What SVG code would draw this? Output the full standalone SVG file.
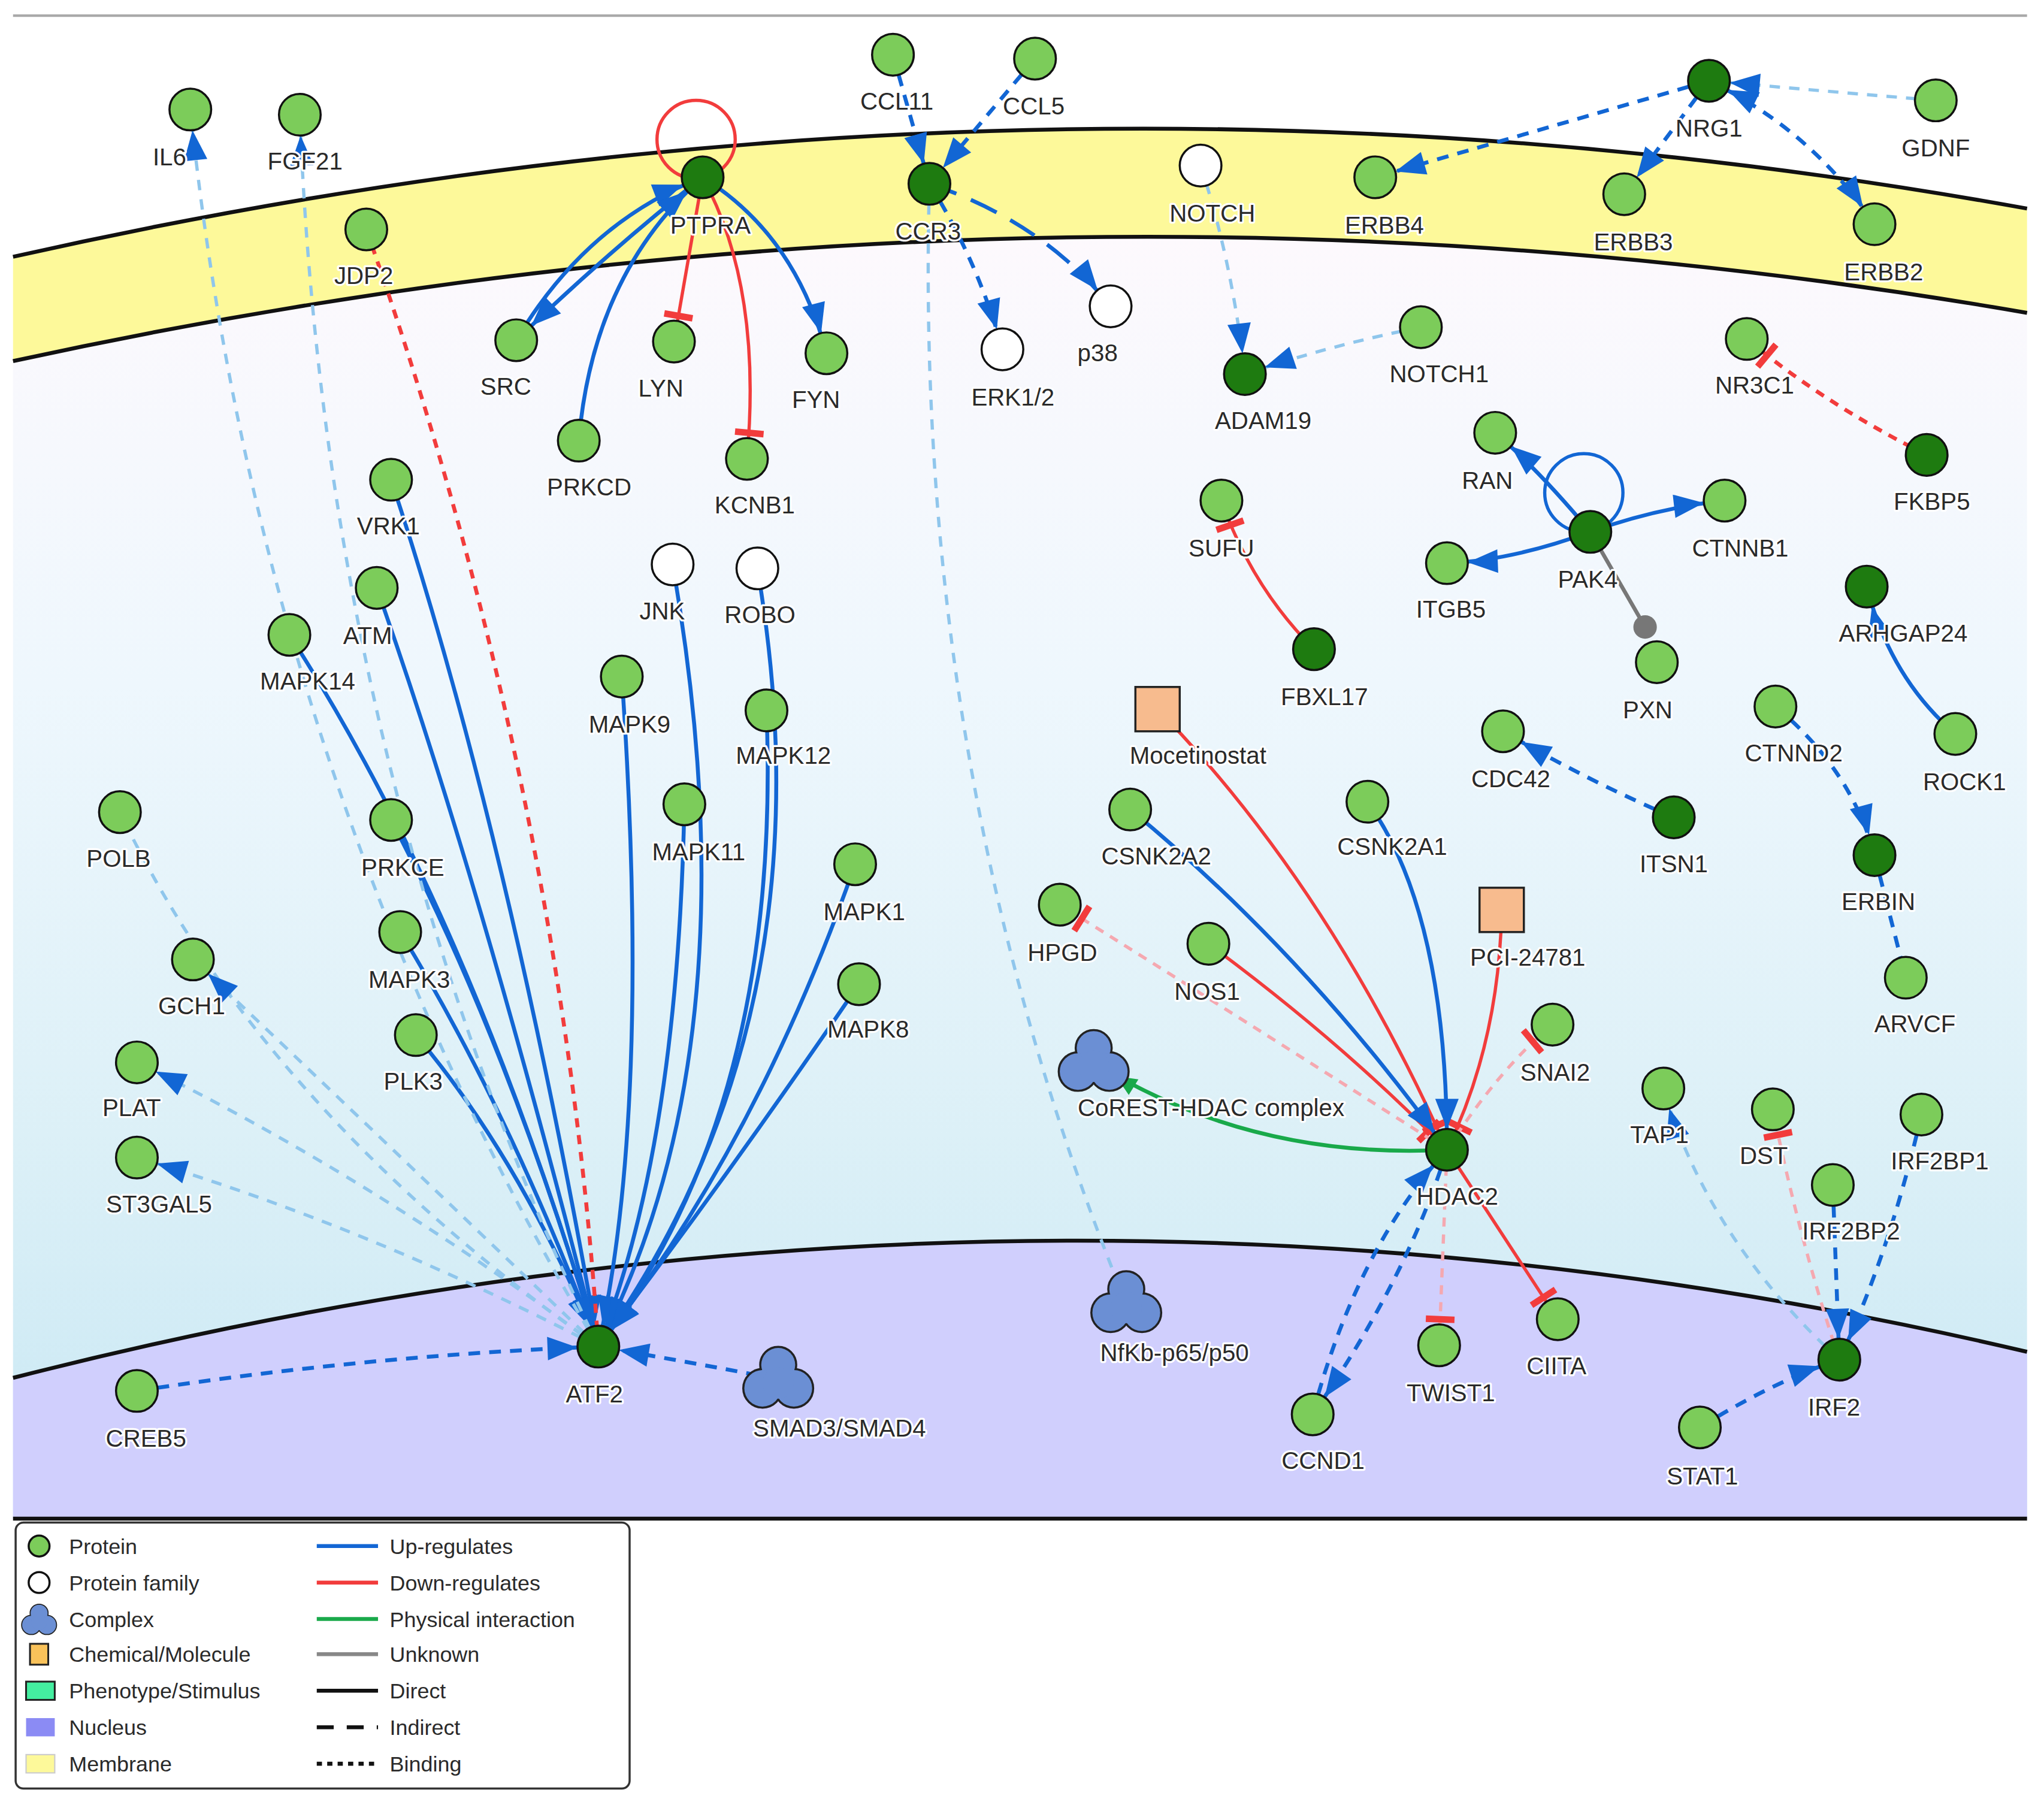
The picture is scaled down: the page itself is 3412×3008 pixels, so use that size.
<svg xmlns="http://www.w3.org/2000/svg" width="3412" height="3008" viewBox="0 0 3412 3008">
<style>
.p{fill:#7ccc5a;stroke:#111;stroke-width:1.6}
.d{fill:#1e7b10;stroke:#111;stroke-width:1.6}
.f{fill:#fff;stroke:#111;stroke-width:1.6}
.sq{fill:#f7bb8e;stroke:#222;stroke-width:1.6}
text{font-family:"Liberation Sans",Arial,sans-serif;font-size:18.5px;fill:#2a2a2a;text-anchor:middle;paint-order:stroke;stroke:#fff;stroke-width:3px;stroke-linejoin:round}
.lg text{text-anchor:start;stroke:none;font-size:16.5px}
.e{fill:none;stroke-width:3}
.b{stroke:#1266d4}
.bd{stroke:#1266d4;stroke-dasharray:9 7}
.lb{stroke:#8fc6ec;stroke-dasharray:8 7;stroke-width:2.5}
.r{stroke:#f23c3c;stroke-width:2.5}
.rd{stroke:#f23c3c;stroke-dasharray:7 6}
.pk{stroke:#f5a8b0;stroke-dasharray:7 6;stroke-width:2.5}
.g{stroke:#19a94a}
.ab{marker-end:url(#ab)}
.tr{marker-end:url(#tr)}
</style>
<defs>
<linearGradient id="cyto" x1="0" y1="0" x2="0" y2="1">
<stop offset="0" stop-color="#fdf9fd"/><stop offset="0.35" stop-color="#eef7fd"/><stop offset="0.7" stop-color="#dcf0f7"/><stop offset="1" stop-color="#c9e8f4"/>
</linearGradient>
<marker id="ab" markerUnits="userSpaceOnUse" markerWidth="60" markerHeight="60" refX="39" refY="9" orient="auto-start-reverse" overflow="visible"><path d="M0,0 L23,9 L0,18 z" fill="#1266d4"/></marker>
<marker id="ag" markerUnits="userSpaceOnUse" markerWidth="60" markerHeight="60" refX="36" refY="7" orient="auto" overflow="visible"><path d="M0,0 L16,7 L0,14 z" fill="#19a94a"/></marker>
<marker id="tr" markerUnits="userSpaceOnUse" markerWidth="60" markerHeight="60" refX="20" refY="0" orient="auto" overflow="visible"><path d="M0,-11 L0,11" stroke="#f23c3c" stroke-width="5"/></marker>
<g id="cplx"><g stroke="#222" stroke-width="3.2" fill="#6b8fd4"><circle cx="0" cy="-11" r="13"/><circle cx="-12" cy="7" r="14"/><circle cx="12" cy="7" r="14"/></g><g fill="#6b8fd4"><circle cx="0" cy="-11" r="13"/><circle cx="-12" cy="7" r="14"/><circle cx="12" cy="7" r="14"/><circle cx="0" cy="3" r="12"/></g></g>
</defs>
<rect width="3412" height="3008" fill="#fff"/>
<g transform="scale(2.176)">
<g id="background">
<line x1="10" y1="12" x2="1555" y2="12" stroke="#aaa" stroke-width="2"/>
<path d="M10,277 Q790,107 1555,240 L1555,1165 L10,1165 Z" fill="url(#cyto)"/>
<path d="M10,197 Q790,21 1555,160 L1555,240 Q790,107 10,277 Z" fill="#fdf99a"/>
<path d="M10,197 Q790,21 1555,160 M1555,240 Q790,107 10,277" fill="none" stroke="#111" stroke-width="3"/>
<path d="M10,1057 Q790,857 1555,1037 L1555,1165 L10,1165 Z" fill="#d0cffd"/>
<path d="M10,1057 Q790,857 1555,1037 M10,1165 L1555,1165" fill="none" stroke="#111" stroke-width="3"/>
</g>
<g id="connectors">
<path class="e b ab" d="M300,368 Q390,640 459,1033"/>
<path class="e b ab" d="M289,451 Q370,680 459,1033"/>
<path class="e b ab" d="M222,487 Q360,700 459,1033"/>
<path class="e b ab" d="M300,629 Q390,800 459,1033"/>
<path class="e b ab" d="M307,715 Q390,850 459,1033"/>
<path class="e b ab" d="M319,794 Q400,890 459,1033"/>
<path class="e b ab" d="M477,519 Q500,850 459,1033"/>
<path class="e b ab" d="M525,617 Q520,880 459,1033"/>
<path class="e b ab" d="M588,545 Q600,850 459,1033"/>
<path class="e b ab" d="M516,433 Q580,800 459,1033"/>
<path class="e b ab" d="M581,436 Q640,780 459,1033"/>
<path class="e b ab" d="M656,663 Q580,880 459,1033"/>
<path class="e b ab" d="M659,755 Q560,900 459,1033"/>
<path class="e rd" d="M281,176 Q430,600 459,1033"/>
<path class="e lb ab" d="M459,1033 Q200,600 146,84"/>
<path class="e lb ab" d="M459,1033 Q250,600 230,88"/>
<path class="e lb" d="M459,1033 Q200,850 92,623"/>
<path class="e lb ab" d="M459,1033 Q300,880 148,736"/>
<path class="e lb ab" d="M459,1033 Q280,900 105,815"/>
<path class="e lb ab" d="M459,1033 Q280,940 105,888"/>
<path class="e bd ab" d="M105,1067 Q280,1040 459,1033"/>
<path class="e bd ab" d="M597,1058 Q530,1045 459,1033"/>
<path class="e b ab" d="M396,261 Q450,170 539,136"/>
<path class="e b ab" d="M539,136 Q470,190 396,261"/>
<path class="e b ab" d="M444,338 Q455,210 539,136"/>
<path class="e b ab" d="M539,136 Q610,180 634,271"/>
<path class="e r tr" d="M539,136 L517,262"/>
<path class="e r tr" d="M539,136 Q585,220 573,352"/>
<circle cx="534" cy="107" r="30" fill="none" stroke="#f23c3c" stroke-width="2.5"/>
<path class="e bd ab" d="M685,42 L713,141"/>
<path class="e bd ab" d="M794,45 L713,141"/>
<path class="e bd ab" d="M713,141 Q750,200 769,268"/>
<path class="e b ab" stroke-dasharray="22 12" d="M713,141 Q800,170 852,235"/>
<path class="e lb" d="M864,1000 Q700,600 713,141"/>
<path class="e lb ab" d="M921,127 Q945,200 955,287"/>
<path class="e lb ab" d="M1090,251 Q1020,265 955,287"/>
<path class="e bd ab" d="M1311,62 Q1180,100 1055,136"/>
<path class="e bd ab" d="M1311,62 L1246,149"/>
<path class="e bd ab" style="marker-start:url(#ab)" d="M1311,62 Q1390,100 1438,172"/>
<path class="e lb ab" d="M1485,77 Q1400,70 1311,62"/>
<path class="e rd tr" d="M1478,349 Q1400,310 1340,260"/>
<circle cx="1215" cy="378" r="30" fill="none" stroke="#1266d4" stroke-width="2.5"/>
<path class="e b ab" d="M1220,408 Q1180,360 1147,332"/>
<path class="e b ab" d="M1220,408 Q1270,390 1323,384"/>
<path class="e b ab" d="M1220,408 Q1160,430 1110,432"/>
<path class="e" stroke="#777" stroke-width="3" d="M1220,408 L1262,481"/>
<circle cx="1262" cy="481" r="9" fill="#777"/>
<path class="e r tr" d="M1008,498 Q960,450 937,384"/>
<path class="e b ab" d="M1500,563 Q1450,520 1432,450"/>
<path class="e bd ab" d="M1284,627 Q1220,600 1153,561"/>
<path class="e bd ab" d="M1362,542 Q1420,590 1438,656"/>
<path class="e bd" d="M1438,656 L1462,750"/>
<path class="e r tr" d="M888,544 Q1020,680 1110,882"/>
<path class="e r tr" d="M1152,698 Q1150,800 1110,882"/>
<path class="e r tr" d="M927,724 Q1030,800 1110,882"/>
<path class="e b ab" d="M867,621 Q1000,730 1110,882"/>
<path class="e b ab" d="M1049,615 Q1110,700 1110,882"/>
<path class="e pk tr" d="M1110,882 Q950,780 813,694"/>
<path class="e pk tr" d="M1110,882 Q1150,820 1191,786"/>
<path class="e g" style="marker-end:url(#ag)" d="M1110,882 Q960,890 839,815"/>
<path class="e pk tr" d="M1110,882 L1104,1032"/>
<path class="e r tr" d="M1110,882 L1195,1012"/>
<path class="e bd ab" d="M1007,1085 Q1040,960 1110,882"/>
<path class="e bd ab" d="M1110,882 Q1080,980 1007,1085"/>
<path class="e lb ab" d="M1411,1043 Q1310,950 1276,835"/>
<path class="e pk tr" d="M1411,1043 Q1380,950 1360,851"/>
<path class="e bd ab" d="M1474,855 Q1450,960 1411,1043"/>
<path class="e bd ab" d="M1406,909 L1411,1043"/>
<path class="e bd ab" d="M1304,1095 Q1360,1060 1411,1043"/>
</g>
<g id="nodes">
<g id="IL6"><circle class="p" cx="146" cy="84" r="16"/><text x="130" y="127">IL6</text></g>
<g id="FGF21"><circle class="p" cx="230" cy="88" r="16"/><text x="234" y="130">FGF21</text></g>
<g id="JDP2"><circle class="p" cx="281" cy="176" r="16"/><text x="279" y="218">JDP2</text></g>
<g id="PTPRA"><circle class="d" cx="539" cy="136" r="16"/><text x="545" y="179">PTPRA</text></g>
<g id="CCL11"><circle class="p" cx="685" cy="42" r="16"/><text x="688" y="84">CCL11</text></g>
<g id="CCL5"><circle class="p" cx="794" cy="45" r="16"/><text x="793" y="88">CCL5</text></g>
<g id="CCR3"><circle class="d" cx="713" cy="141" r="16"/><text x="712" y="184">CCR3</text></g>
<g id="NOTCH"><circle class="f" cx="921" cy="127" r="16"/><text x="930" y="170">NOTCH</text></g>
<g id="ERBB4"><circle class="p" cx="1055" cy="136" r="16"/><text x="1062" y="179">ERBB4</text></g>
<g id="NRG1"><circle class="d" cx="1311" cy="62" r="16"/><text x="1311" y="105">NRG1</text></g>
<g id="GDNF"><circle class="p" cx="1485" cy="77" r="16"/><text x="1485" y="120">GDNF</text></g>
<g id="ERBB3"><circle class="p" cx="1246" cy="149" r="16"/><text x="1253" y="192">ERBB3</text></g>
<g id="ERBB2"><circle class="p" cx="1438" cy="172" r="16"/><text x="1445" y="215">ERBB2</text></g>
<g id="SRC"><circle class="p" cx="396" cy="261" r="16"/><text x="388" y="303">SRC</text></g>
<g id="LYN"><circle class="p" cx="517" cy="262" r="16"/><text x="507" y="304">LYN</text></g>
<g id="FYN"><circle class="p" cx="634" cy="271" r="16"/><text x="626" y="313">FYN</text></g>
<g id="ERK12"><circle class="f" cx="769" cy="268" r="16"/><text x="777" y="311">ERK1/2</text></g>
<g id="p38"><circle class="f" cx="852" cy="235" r="16"/><text x="842" y="277">p38</text></g>
<g id="ADAM19"><circle class="d" cx="955" cy="287" r="16"/><text x="969" y="329">ADAM19</text></g>
<g id="NOTCH1"><circle class="p" cx="1090" cy="251" r="16"/><text x="1104" y="293">NOTCH1</text></g>
<g id="NR3C1"><circle class="p" cx="1340" cy="260" r="16"/><text x="1346" y="302">NR3C1</text></g>
<g id="PRKCD"><circle class="p" cx="444" cy="338" r="16"/><text x="452" y="380">PRKCD</text></g>
<g id="KCNB1"><circle class="p" cx="573" cy="352" r="16"/><text x="579" y="394">KCNB1</text></g>
<g id="VRK1"><circle class="p" cx="300" cy="368" r="16"/><text x="298" y="410">VRK1</text></g>
<g id="RAN"><circle class="p" cx="1147" cy="332" r="16"/><text x="1141" y="375">RAN</text></g>
<g id="FKBP5"><circle class="d" cx="1478" cy="349" r="16"/><text x="1482" y="391">FKBP5</text></g>
<g id="SUFU"><circle class="p" cx="937" cy="384" r="16"/><text x="937" y="427">SUFU</text></g>
<g id="CTNNB1"><circle class="p" cx="1323" cy="384" r="16"/><text x="1335" y="427">CTNNB1</text></g>
<g id="PAK4"><circle class="d" cx="1220" cy="408" r="16"/><text x="1218" y="451">PAK4</text></g>
<g id="ITGB5"><circle class="p" cx="1110" cy="432" r="16"/><text x="1113" y="474">ITGB5</text></g>
<g id="ATM"><circle class="p" cx="289" cy="451" r="16"/><text x="282" y="494">ATM</text></g>
<g id="JNK"><circle class="f" cx="516" cy="433" r="16"/><text x="508" y="475">JNK</text></g>
<g id="ROBO"><circle class="f" cx="581" cy="436" r="16"/><text x="583" y="478">ROBO</text></g>
<g id="MAPK14"><circle class="p" cx="222" cy="487" r="16"/><text x="236" y="529">MAPK14</text></g>
<g id="ARHGAP24"><circle class="d" cx="1432" cy="450" r="16"/><text x="1460" y="492">ARHGAP24</text></g>
<g id="PXN"><circle class="p" cx="1271" cy="508" r="16"/><text x="1264" y="551">PXN</text></g>
<g id="FBXL17"><circle class="d" cx="1008" cy="498" r="16"/><text x="1016" y="541">FBXL17</text></g>
<g id="MAPK9"><circle class="p" cx="477" cy="519" r="16"/><text x="483" y="562">MAPK9</text></g>
<g id="MAPK12"><circle class="p" cx="588" cy="545" r="16"/><text x="601" y="586">MAPK12</text></g>
<g id="Mocetinostat"><rect class="sq" x="871" y="527" width="34" height="34"/><text x="919" y="586">Mocetinostat</text></g>
<g id="CDC42"><circle class="p" cx="1153" cy="561" r="16"/><text x="1159" y="604">CDC42</text></g>
<g id="CTNND2"><circle class="p" cx="1362" cy="542" r="16"/><text x="1376" y="584">CTNND2</text></g>
<g id="ROCK1"><circle class="p" cx="1500" cy="563" r="16"/><text x="1507" y="606">ROCK1</text></g>
<g id="MAPK11"><circle class="p" cx="525" cy="617" r="16"/><text x="536" y="660">MAPK11</text></g>
<g id="CSNK2A2"><circle class="p" cx="867" cy="621" r="16"/><text x="887" y="663">CSNK2A2</text></g>
<g id="CSNK2A1"><circle class="p" cx="1049" cy="615" r="16"/><text x="1068" y="656">CSNK2A1</text></g>
<g id="ITSN1"><circle class="d" cx="1284" cy="627" r="16"/><text x="1284" y="669">ITSN1</text></g>
<g id="ERBIN"><circle class="d" cx="1438" cy="656" r="16"/><text x="1441" y="698">ERBIN</text></g>
<g id="POLB"><circle class="p" cx="92" cy="623" r="16"/><text x="91" y="665">POLB</text></g>
<g id="PRKCE"><circle class="p" cx="300" cy="629" r="16"/><text x="309" y="672">PRKCE</text></g>
<g id="MAPK1"><circle class="p" cx="656" cy="663" r="16"/><text x="663" y="706">MAPK1</text></g>
<g id="MAPK3"><circle class="p" cx="307" cy="715" r="16"/><text x="314" y="758">MAPK3</text></g>
<g id="HPGD"><circle class="p" cx="813" cy="694" r="16"/><text x="815" y="737">HPGD</text></g>
<g id="NOS1"><circle class="p" cx="927" cy="724" r="16"/><text x="926" y="767">NOS1</text></g>
<g id="PCI-24781"><rect class="sq" x="1135" y="681" width="34" height="34"/><text x="1172" y="741">PCI-24781</text></g>
<g id="ARVCF"><circle class="p" cx="1462" cy="750" r="16"/><text x="1469" y="792">ARVCF</text></g>
<g id="MAPK8"><circle class="p" cx="659" cy="755" r="16"/><text x="666" y="796">MAPK8</text></g>
<g id="GCH1"><circle class="p" cx="148" cy="736" r="16"/><text x="147" y="778">GCH1</text></g>
<g id="SNAI2"><circle class="p" cx="1191" cy="786" r="16"/><text x="1193" y="829">SNAI2</text></g>
<g id="PLK3"><circle class="p" cx="319" cy="794" r="16"/><text x="317" y="836">PLK3</text></g>
<g id="PLAT"><circle class="p" cx="105" cy="815" r="16"/><text x="101" y="856">PLAT</text></g>
<g id="CoREST-HDAC"><use href="#cplx" x="839" y="815"/><text x="929" y="856">CoREST-HDAC complex</text></g>
<g id="TAP1"><circle class="p" cx="1276" cy="835" r="16"/><text x="1273" y="877">TAP1</text></g>
<g id="DST"><circle class="p" cx="1360" cy="851" r="16"/><text x="1353" y="893">DST</text></g>
<g id="IRF2BP1"><circle class="p" cx="1474" cy="855" r="16"/><text x="1488" y="897">IRF2BP1</text></g>
<g id="HDAC2"><circle class="d" cx="1110" cy="882" r="16"/><text x="1118" y="924">HDAC2</text></g>
<g id="ST3GAL5"><circle class="p" cx="105" cy="888" r="16"/><text x="122" y="930">ST3GAL5</text></g>
<g id="IRF2BP2"><circle class="p" cx="1406" cy="909" r="16"/><text x="1420" y="951">IRF2BP2</text></g>
<g id="NfKb"><use href="#cplx" x="864" y="1000"/><text x="901" y="1044">NfKb-p65/p50</text></g>
<g id="ATF2"><circle class="d" cx="459" cy="1033" r="16"/><text x="456" y="1076">ATF2</text></g>
<g id="SMAD"><use href="#cplx" x="597" y="1058"/><text x="644" y="1102">SMAD3/SMAD4</text></g>
<g id="CREB5"><circle class="p" cx="105" cy="1067" r="16"/><text x="112" y="1110">CREB5</text></g>
<g id="TWIST1"><circle class="p" cx="1104" cy="1032" r="16"/><text x="1113" y="1075">TWIST1</text></g>
<g id="CIITA"><circle class="p" cx="1195" cy="1012" r="16"/><text x="1194" y="1054">CIITA</text></g>
<g id="IRF2"><circle class="d" cx="1411" cy="1043" r="16"/><text x="1407" y="1086">IRF2</text></g>
<g id="CCND1"><circle class="p" cx="1007" cy="1085" r="16"/><text x="1015" y="1127">CCND1</text></g>
<g id="STAT1"><circle class="p" cx="1304" cy="1095" r="16"/><text x="1306" y="1139">STAT1</text></g>
</g>
<g id="legend" class="lg">
<rect x="12" y="1168" width="471" height="204" rx="6" fill="#fff" stroke="#333" stroke-width="1.6"/>
<circle class="p" cx="30" cy="1186" r="8"/><text x="53" y="1192">Protein</text>
<circle class="f" cx="30" cy="1214" r="8"/><text x="53" y="1220">Protein family</text>
<use href="#cplx" transform="translate(30,1243) scale(0.5)"/><text x="53" y="1248">Complex</text>
<rect x="23" y="1261" width="14" height="16" fill="#f9c25a" stroke="#222" stroke-width="1.4"/><text x="53" y="1275">Chemical/Molecule</text>
<rect x="20" y="1290" width="22" height="14" fill="#44eea0" stroke="#222" stroke-width="1.4"/><text x="53" y="1303">Phenotype/Stimulus</text>
<rect x="20" y="1318" width="22" height="14" fill="#8b8bf4"/><text x="53" y="1331">Nucleus</text>
<rect x="20" y="1346" width="22" height="14" fill="#fdf99a" stroke="#ccc" stroke-width="1"/><text x="53" y="1359">Membrane</text>
<line x1="243" y1="1186" x2="290" y2="1186" stroke="#1266d4" stroke-width="3"/><text x="299" y="1192">Up-regulates</text>
<line x1="243" y1="1214" x2="290" y2="1214" stroke="#f23c3c" stroke-width="3"/><text x="299" y="1220">Down-regulates</text>
<line x1="243" y1="1242" x2="290" y2="1242" stroke="#19a94a" stroke-width="3"/><text x="299" y="1248">Physical interaction</text>
<line x1="243" y1="1269" x2="290" y2="1269" stroke="#888" stroke-width="3"/><text x="299" y="1275">Unknown</text>
<line x1="243" y1="1297" x2="290" y2="1297" stroke="#111" stroke-width="3"/><text x="299" y="1303">Direct</text>
<line x1="243" y1="1325" x2="290" y2="1325" stroke="#111" stroke-width="3" stroke-dasharray="13 10"/><text x="299" y="1331">Indirect</text>
<line x1="243" y1="1353" x2="290" y2="1353" stroke="#111" stroke-width="3" stroke-dasharray="4 4"/><text x="299" y="1359">Binding</text>
</g>
</g>
</svg>
